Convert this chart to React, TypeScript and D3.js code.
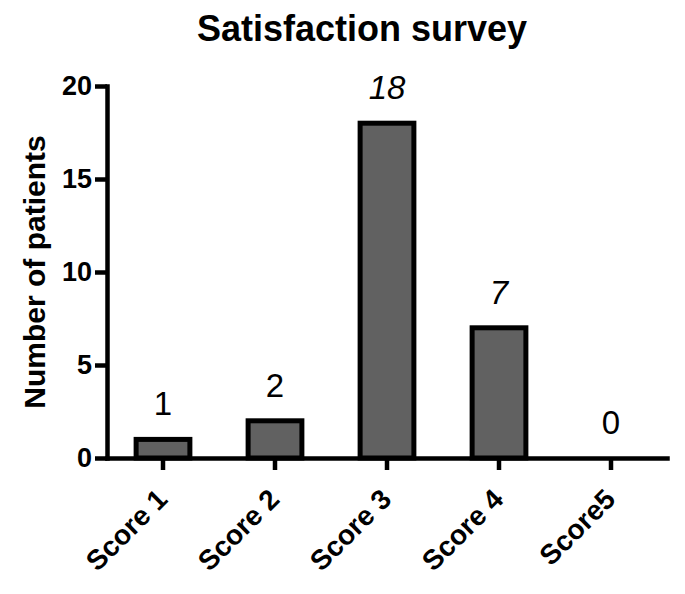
import { useEffect, useRef } from "react";
import * as d3 from "d3";

const categories = ["Score 1", "Score 2", "Score 3", "Score 4", "Score5"];
const patients = [1, 2, 18, 7, 0];
const yTicks = [0, 5, 10, 15, 20];
// the value labels of these bars are set in italics in the original
const italicLabels = new Set(["Score 3", "Score 4"]);

const FONT = "'Liberation Sans', Arial, Helvetica, sans-serif";

function BarChart() {
  const ref = useRef<SVGSVGElement | null>(null);
  const width = 685;
  const height = 594;

  useEffect(() => {
    const svg = d3.select(ref.current);
    svg.selectAll("*").remove();

    const x = d3.scaleBand<string>()
      .domain(categories)
      .range([107, 667])
      .paddingInner(0.52)
      .paddingOuter(0.26);

    const y = d3.scaleLinear().domain([0, 20]).range([458, 86]);

    const rows = categories.map((c, i) => ({ cat: c, value: patients[i] }));

    // bars
    svg.append("g")
      .selectAll("rect")
      .data(rows.filter(d => d.value > 0))
      .join("rect")
        .attr("x", d => x(d.cat)!)
        .attr("y", d => y(d.value))
        .attr("width", x.bandwidth())
        .attr("height", d => y(0) - y(d.value))
        .attr("fill", "#616161")
        .attr("stroke", "#000")
        .attr("stroke-width", 5);

    // y axis
    const gy = svg.append("g")
      .attr("transform", `translate(${x.range()[0]},0)`)
      .call(d3.axisLeft(y).tickValues(yTicks).tickSize(12).tickSizeOuter(0).tickPadding(3));
    gy.select(".domain").attr("stroke-width", 4.5).attr("stroke-linecap", "square");
    gy.selectAll(".tick line").attr("stroke-width", 4.5);
    gy.selectAll(".tick text")
      .attr("font-family", FONT)
      .attr("font-size", 27)
      .attr("font-weight", "bold")
      .attr("fill", "#000");

    // x axis
    const gx = svg.append("g")
      .attr("transform", `translate(0,${y(0)})`)
      .call(d3.axisBottom(x).tickSize(12).tickSizeOuter(0));
    gx.select(".domain").attr("stroke-width", 4.5).attr("stroke-linecap", "square");
    gx.selectAll(".tick line").attr("stroke-width", 4.5);
    gx.selectAll(".tick text")
      .attr("font-family", FONT)
      .attr("font-size", 28)
      .attr("font-weight", "bold")
      .attr("fill", "#000")
      .attr("text-anchor", "end")
      .attr("y", null)
      .attr("dy", null)
      .attr("transform", "translate(6,43) rotate(-45)");

    // value labels
    svg.append("g")
      .selectAll("text")
      .data(rows)
      .join("text")
        .attr("x", d => x(d.cat)! + x.bandwidth() / 2)
        .attr("y", d => y(d.value) - 24)
        .attr("text-anchor", "middle")
        .attr("font-family", FONT)
        .attr("font-size", 33)
        .attr("font-style", d => italicLabels.has(d.cat) ? "italic" : "normal")
        .text(d => d.value);

    // title
    svg.append("text")
      .attr("x", 362)
      .attr("y", 41)
      .attr("text-anchor", "middle")
      .attr("font-family", FONT)
      .attr("font-size", 36)
      .attr("font-weight", "bold")
      .text("Satisfaction survey");

    // y axis title
    svg.append("text")
      .attr("transform", `translate(45,${(y(0) + y(20)) / 2}) rotate(-90)`)
      .attr("text-anchor", "middle")
      .attr("font-family", FONT)
      .attr("font-size", 30)
      .attr("font-weight", "bold")
      .text("Number of patients");
  }, []);

  return (
    <svg
      ref={ref}
      width={width}
      height={height}
      style={{ position: "absolute", left: 0, top: 0, background: "#fff" }}
    />
  );
}

export default function App() {
  return <BarChart />;
}
